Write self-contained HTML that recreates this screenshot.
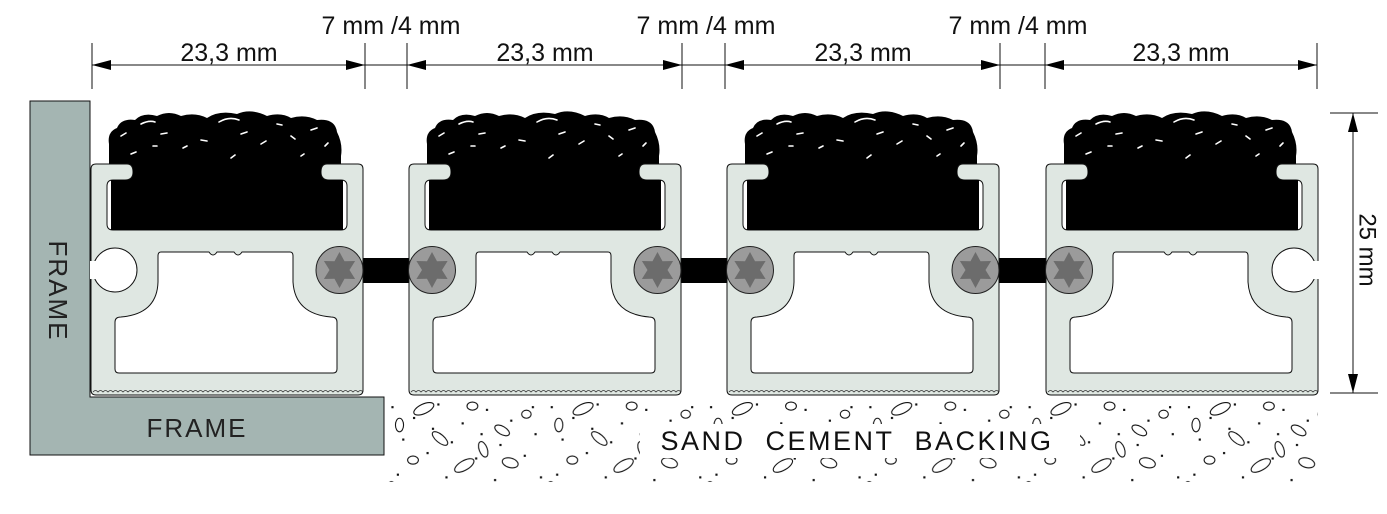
<!DOCTYPE html>
<html><head><meta charset="utf-8"><style>
html,body{margin:0;padding:0;background:#fff;}
svg{display:block;}
text{font-family:"Liberation Sans",sans-serif;}
</style></head><body>
<svg width="1387" height="514" viewBox="0 0 1387 514" xmlns="http://www.w3.org/2000/svg">
<defs>
  <pattern id="sandp" x="0" y="0" width="118" height="84" patternUnits="userSpaceOnUse" patternTransform="translate(386,398) scale(1.35)">
    <g fill="#111">
      <rect x="4" y="6" width="1.6" height="1.6"/><rect x="20" y="14" width="1.6" height="1.6"/><rect x="38" y="4" width="1.6" height="1.6"/>
      <rect x="56" y="18" width="1.6" height="1.6"/><rect x="74" y="8" width="1.6" height="1.6"/><rect x="92" y="16" width="1.6" height="1.6"/>
      <rect x="108" y="6" width="1.6" height="1.6"/><rect x="12" y="30" width="1.6" height="1.6"/><rect x="30" y="40" width="1.6" height="1.6"/>
      <rect x="48" y="32" width="1.6" height="1.6"/><rect x="66" y="44" width="1.6" height="1.6"/><rect x="84" y="34" width="1.6" height="1.6"/>
      <rect x="102" y="42" width="1.6" height="1.6"/><rect x="8" y="56" width="1.6" height="1.6"/><rect x="26" y="64" width="1.6" height="1.6"/>
      <rect x="44" y="58" width="1.6" height="1.6"/><rect x="62" y="70" width="1.6" height="1.6"/><rect x="80" y="60" width="1.6" height="1.6"/>
      <rect x="98" y="68" width="1.6" height="1.6"/><rect x="114" y="58" width="1.6" height="1.6"/><rect x="16" y="78" width="1.6" height="1.6"/>
      <rect x="52" y="80" width="1.6" height="1.6"/><rect x="88" y="78" width="1.6" height="1.6"/><rect x="34" y="22" width="1.6" height="1.6"/>
      <rect x="70" y="26" width="1.6" height="1.6"/><rect x="110" y="26" width="1.6" height="1.6"/>
    </g>
    <g fill="none" stroke="#111" stroke-width="0.8">
      <ellipse cx="28" cy="8" rx="8" ry="3.5" transform="rotate(-25 28 8)"/>
      <ellipse cx="64" cy="6" rx="4" ry="3"/>
      <ellipse cx="86" cy="24" rx="6" ry="3" transform="rotate(30 86 24)"/>
      <ellipse cx="10" cy="20" rx="3" ry="5"/>
      <ellipse cx="40" cy="30" rx="7" ry="3" transform="rotate(40 40 30)"/>
      <ellipse cx="104" cy="12" rx="3.5" ry="3"/>
      <ellipse cx="20" cy="46" rx="4" ry="3"/>
      <ellipse cx="58" cy="50" rx="8" ry="3.5" transform="rotate(-30 58 50)"/>
      <ellipse cx="92" cy="48" rx="6" ry="3.5" transform="rotate(15 92 48)"/>
      <ellipse cx="34" cy="70" rx="7" ry="3.5" transform="rotate(-15 34 70)"/>
      <ellipse cx="74" cy="74" rx="3.5" ry="4.5"/>
      <ellipse cx="108" cy="74" rx="6" ry="3" transform="rotate(-35 108 74)"/>
      <ellipse cx="4" cy="66" rx="3" ry="4"/>
      <ellipse cx="72" cy="38" rx="3" ry="6" transform="rotate(-20 72 38)"/>
    </g>
  </pattern>
  <g id="pile">
    <path d="M18,16 L18,-20 Q16,-32 26,-36 Q30,-46 44,-44 Q52,-52 66,-48 Q78,-54 90,-48 Q104,-52 116,-46 Q128,-54 146,-50 Q160,-56 176,-48 Q190,-52 200,-46 Q214,-50 226,-44 Q244,-46 246,-32 Q252,-20 250,-8 L250,16 Z" fill="#000"/>
    <g stroke="#fff" stroke-width="1.6" fill="none" stroke-linecap="round">
      <path d="M30,-28 l5,-3"/><path d="M50,-40 q8,-4 14,-2"/><path d="M70,-30 l6,-1"/><path d="M92,-16 l4,-2"/>
      <path d="M110,-24 l6,1"/><path d="M128,-42 q10,-6 20,-2"/><path d="M150,-30 l6,-2"/><path d="M170,-20 l5,-3"/>
      <path d="M186,-40 l5,1"/><path d="M200,-28 l4,3"/><path d="M220,-34 l6,-2"/><path d="M234,-18 l3,-3"/>
      <path d="M40,-10 l5,-2"/><path d="M140,-6 l4,-3"/><path d="M210,-8 l3,-2"/><path d="M62,-18 l4,0"/>
    </g>
  </g>
  <g id="prof">
    <use href="#pile"/>
    <path d="M5,0 H36 Q42,0 42,8 Q42,16 34,16 H22 Q16,16 16,22 V60 Q16,66 22,66 H250 Q256,66 256,60 V22 Q256,16 250,16 H238 Q230,16 230,8 Q230,0 236,0 H267 Q272,0 272,5 V226 Q272,231 267,231 H5 Q0,231 0,226 V5 Q0,0 5,0 Z" fill="#dfe7e2" stroke="#111" stroke-width="1"/>
    <rect x="20" y="16" width="232" height="50" fill="#000"/>
    <rect x="42" y="0" width="188" height="16.5" fill="#000"/>
    <path d="M70,88 H118 Q122,94 126,88 H143 Q147,94 151,88 H199 Q202,88 202,92 V118 Q204,150 240,153 Q246,153 246,158 V205 Q246,209 242,209 H28 Q24,209 24,205 V158 Q24,153 30,153 Q66,150 67,118 V92 Q67,88 70,88 Z" fill="#fff" stroke="#111" stroke-width="1"/>
    <path d="M2,228 q2.5,-3 5,0 q2.5,-3 5,0 q2.5,-3 5,0 q2.5,-3 5,0 q2.5,-3 5,0 q2.5,-3 5,0 q2.5,-3 5,0 q2.5,-3 5,0 q2.5,-3 5,0 q2.5,-3 5,0 q2.5,-3 5,0 q2.5,-3 5,0 q2.5,-3 5,0 q2.5,-3 5,0 q2.5,-3 5,0 q2.5,-3 5,0 q2.5,-3 5,0 q2.5,-3 5,0 q2.5,-3 5,0 q2.5,-3 5,0 q2.5,-3 5,0 q2.5,-3 5,0 q2.5,-3 5,0 q2.5,-3 5,0 q2.5,-3 5,0 q2.5,-3 5,0 q2.5,-3 5,0 q2.5,-3 5,0 q2.5,-3 5,0 q2.5,-3 5,0 q2.5,-3 5,0 q2.5,-3 5,0 q2.5,-3 5,0 q2.5,-3 5,0 q2.5,-3 5,0 q2.5,-3 5,0 q2.5,-3 5,0 q2.5,-3 5,0 q2.5,-3 5,0 q2.5,-3 5,0 q2.5,-3 5,0 q2.5,-3 5,0 q2.5,-3 5,0 q2.5,-3 5,0 q2.5,-3 5,0 q2.5,-3 5,0 q2.5,-3 5,0 q2.5,-3 5,0 q2.5,-3 5,0 q2.5,-3 5,0 q2.5,-3 5,0 q2.5,-3 5,0 q2.5,-3 5,0 q2.5,-3 5,0" fill="none" stroke="#333" stroke-width="0.8"/>
  </g>
  <g id="screw">
    <circle r="23.5" fill="#9b9b9b" stroke="#222" stroke-width="1"/>
    <polygon points="0,-18 5,-8.7 15.6,-9 10,0 15.6,9 5,8.7 0,18 -5,8.7 -15.6,9 -10,0 -15.6,-9 -5,-8.7" fill="#6c6c6c"/>
  </g>
  <g id="holeL">
    <circle cx="24" cy="106" r="22" fill="#fff" stroke="#111" stroke-width="1"/>
    <rect x="-1" y="97" width="10" height="18" fill="#fff"/>
  </g>
</defs>

<path d="M30,101 H90 V397 H384 V455 H30 Z" fill="#a4b5b2" stroke="#111" stroke-width="1"/>
<text x="58" y="291" font-size="26" fill="#222" text-anchor="middle" dominant-baseline="central" transform="rotate(90 58 291)" letter-spacing="2">FRAME</text>
<text x="197" y="437" font-size="26" fill="#222" text-anchor="middle" letter-spacing="2">FRAME</text>

<rect x="386" y="398" width="932" height="84" fill="url(#sandp)"/>
<rect x="640" y="424" width="440" height="34" fill="#fff"/>
<text x="857" y="450" font-size="27" fill="#111" text-anchor="middle" letter-spacing="2.5">SAND&#160; CEMENT&#160; BACKING</text>

<rect x="339" y="258" width="94" height="25" fill="#000"/>
<rect x="657" y="258" width="94" height="25" fill="#000"/>
<rect x="975" y="258" width="94" height="25" fill="#000"/>

<use href="#prof" transform="translate(91,164)"/>
<use href="#prof" transform="translate(409,164)"/>
<use href="#prof" transform="translate(727,164)"/>
<use href="#prof" transform="translate(1046,164)"/>
<use href="#holeL" transform="translate(91,164)"/>
<use href="#holeL" transform="translate(1318,164) scale(-1,1)"/>
<use href="#screw" transform="translate(339.5,270)"/>
<use href="#screw" transform="translate(432,270)"/>
<use href="#screw" transform="translate(657.5,270)"/>
<use href="#screw" transform="translate(750,270)"/>
<use href="#screw" transform="translate(975.5,270)"/>
<use href="#screw" transform="translate(1069,270)"/>

<g stroke="#111" stroke-width="1">
  <line x1="92" y1="65" x2="1317" y2="65"/>
  <line x1="92" y1="43" x2="92" y2="89"/><line x1="365" y1="43" x2="365" y2="89"/>
  <line x1="407" y1="43" x2="407" y2="89"/><line x1="682" y1="43" x2="682" y2="89"/>
  <line x1="725" y1="43" x2="725" y2="89"/><line x1="1000" y1="43" x2="1000" y2="89"/>
  <line x1="1045" y1="43" x2="1045" y2="89"/><line x1="1317" y1="43" x2="1317" y2="89"/>
</g>
<g fill="#000">
  <polygon points="92,65 111,60 111,70"/><polygon points="365,65 346,60 346,70"/>
  <polygon points="407,65 426,60 426,70"/><polygon points="682,65 663,60 663,70"/>
  <polygon points="725,65 744,60 744,70"/><polygon points="1000,65 981,60 981,70"/>
  <polygon points="1045,65 1064,60 1064,70"/><polygon points="1317,65 1298,60 1298,70"/>
</g>
<g font-size="25" fill="#111" text-anchor="middle">
  <text x="229" y="61">23,3 mm</text>
  <text x="545" y="61">23,3 mm</text>
  <text x="863" y="61">23,3 mm</text>
  <text x="1181" y="61">23,3 mm</text>
  <text x="391" y="34">7 mm /4 mm</text>
  <text x="706" y="34">7 mm /4 mm</text>
  <text x="1018" y="34">7 mm /4 mm</text>
</g>

<g stroke="#111" stroke-width="1">
  <line x1="1330" y1="113" x2="1378" y2="113"/>
  <line x1="1330" y1="393" x2="1378" y2="393"/>
  <line x1="1353" y1="113" x2="1353" y2="393"/>
</g>
<polygon points="1353,113 1348,132 1358,132" fill="#000"/>
<polygon points="1353,393 1348,374 1358,374" fill="#000"/>
<text x="1367" y="250" font-size="24" fill="#111" text-anchor="middle" dominant-baseline="central" transform="rotate(90 1367 250)">25 mm</text>
</svg>
</body></html>
